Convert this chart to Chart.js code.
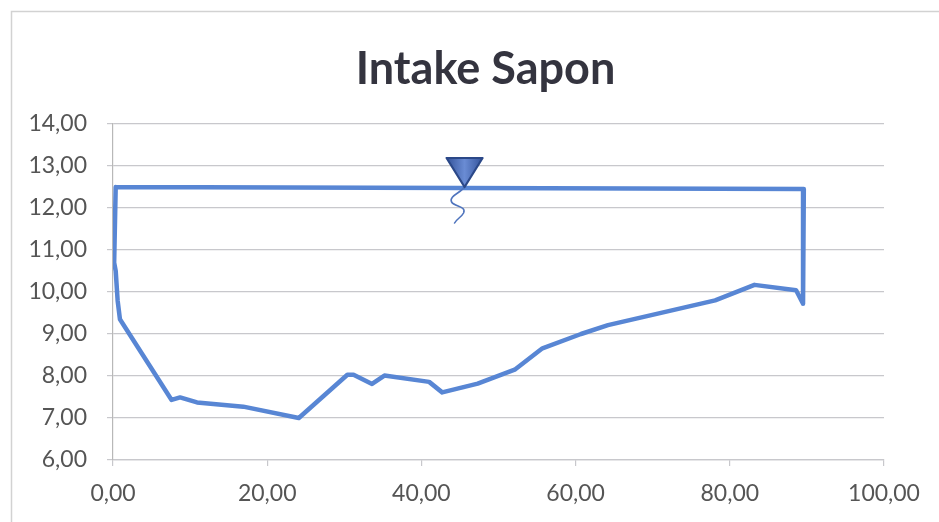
<!DOCTYPE html>
<html>
<head>
<meta charset="utf-8">
<title>Intake Sapon</title>
<script src="https://cdn.jsdelivr.net/npm/chart.js@4.4.1/dist/chart.umd.min.js"></script>
<style>
  html, body { margin: 0; padding: 0; background: #ffffff; }
  #wrap { width: 939px; height: 522px; position: relative; }
</style>
</head>
<body>
<div id="wrap"><canvas id="chart" width="939" height="522"></canvas></div>
<script>
// Cross-section of the intake: station (m) and elevation (m), traced as a closed outline
// (water surface on top, right bank, river bed, left bank).
const stations = [0.35, 89.6, 89.5, 88.6, 83.2, 78.1, 64.2, 60.7, 55.7, 52.1, 47.3, 42.7,
                  41.0, 35.2, 33.6, 31.2, 30.4, 24.1, 16.9, 10.9, 8.7, 7.6, 0.9, 0.6,
                  0.35, 0.15, 0.35];
const elevations = [12.5, 12.45, 9.72, 10.04, 10.17, 9.80, 9.21, 9.00, 8.66, 8.15, 7.82, 7.61,
                    7.86, 8.01, 7.81, 8.03, 8.03, 7.00, 7.27, 7.37, 7.49, 7.43, 9.35, 9.80,
                    10.50, 10.70, 12.5];

// Water level marker
const waterLevel = [12.5];
const markerStation = [45.6];

// Axis ticks
const xTicks = [0, 20, 40, 60, 80, 100];
const yTicks = [6, 7, 8, 9, 10, 11, 12, 13, 14];

const chartTitle = 'Intake Sapon';

const profile = stations.map((s, i) => ({ x: s, y: elevations[i] }));
const fmt = v => Number(v).toFixed(2).replace('.', ',');

const LINE = '#5886d4';
const GRID = '#c8c8cc';
const LABEL = '#555555';

// Light frame around the chart
const framePlugin = {
  id: 'frame',
  beforeDraw(chart) {
    const ctx = chart.ctx;
    ctx.save();
    ctx.strokeStyle = '#d2d2d2';
    ctx.lineWidth = 1.5;
    ctx.beginPath();
    ctx.moveTo(11.5, chart.height);
    ctx.lineTo(11.5, 11.5);
    ctx.lineTo(chart.width, 11.5);
    ctx.stroke();
    ctx.restore();
  }
};

// Title, centred over the plot area
const titlePlugin = {
  id: 'plotTitle',
  afterDraw(chart) {
    const ctx = chart.ctx;
    const a = chart.chartArea;
    ctx.save();
    ctx.font = 'bold 45px Lato';
    ctx.fillStyle = '#34343f';
    ctx.textAlign = 'center';
    ctx.textBaseline = 'alphabetic';
    ctx.fillText(chartTitle, (a.left + a.right) / 2 - 13, 84);
    ctx.restore();
  }
};

// Inverted triangle with a wavy tail, marking the water surface
const waterMarkerPlugin = {
  id: 'waterMarker',
  afterDatasetsDraw(chart) {
    const ctx = chart.ctx;
    const xs = chart.scales.x, ys = chart.scales.y;
    const px = xs.getPixelForValue(markerStation[0]);
    const py = ys.getPixelForValue(waterLevel[0]);
    ctx.save();
    // tail
    ctx.strokeStyle = '#4f74bd';
    ctx.lineWidth = 1.6;
    ctx.lineCap = 'round';
    ctx.beginPath();
    ctx.moveTo(px, py);
    ctx.bezierCurveTo(px - 4, py + 6, px - 16, py + 9, px - 13, py + 15);
    ctx.bezierCurveTo(px - 10, py + 20, px + 2, py + 19, px - 1, py + 26);
    ctx.bezierCurveTo(px - 3, py + 30, px - 8, py + 32, px - 10, py + 36);
    ctx.stroke();
    // triangle, apex on the surface
    const w = 36, h = 29;
    const g = ctx.createLinearGradient(px - w / 2, 0, px + w / 2, 0);
    g.addColorStop(0, '#34539a');
    g.addColorStop(0.5, '#6a8cd4');
    g.addColorStop(1, '#34539a');
    ctx.beginPath();
    ctx.moveTo(px - w / 2, py - h);
    ctx.lineTo(px + w / 2, py - h);
    ctx.lineTo(px, py);
    ctx.closePath();
    ctx.fillStyle = g;
    ctx.fill();
    ctx.strokeStyle = '#2b4888';
    ctx.lineWidth = 2.2;
    ctx.lineJoin = 'round';
    ctx.stroke();
    ctx.restore();
  }
};

new Chart(document.getElementById('chart'), {
  type: 'scatter',
  data: {
    datasets: [{
      label: 'Profil',
      data: profile,
      showLine: true,
      borderColor: LINE,
      borderWidth: 4.5,
      pointRadius: 0,
      pointHoverRadius: 0,
      tension: 0,
      fill: false,
      borderJoinStyle: 'round',
      borderCapStyle: 'round'
    }]
  },
  options: {
    responsive: false,
    devicePixelRatio: 1,
    animation: false,
    layout: { padding: { left: 0, right: 55, top: 124, bottom: 0 } },
    plugins: {
      legend: { display: false },
      tooltip: { enabled: false },
      title: { display: false }
    },
    scales: {
      x: {
        type: 'linear',
        min: xTicks[0],
        max: xTicks[xTicks.length - 1],
        afterBuildTicks: s => { s.ticks = xTicks.map(v => ({ value: v })); },
        afterFit: s => { s.height = 62; },
        ticks: {
          color: LABEL,
          font: { family: 'Lato', size: 23 },
          padding: 14,
          maxRotation: 0,
          callback: v => fmt(v)
        },
        grid: { drawOnChartArea: false, drawTicks: true, tickLength: 6, color: GRID, lineWidth: 1.2 },
        border: { display: true, color: GRID, width: 1.2 }
      },
      y: {
        type: 'linear',
        min: yTicks[0],
        max: yTicks[yTicks.length - 1],
        afterBuildTicks: s => { s.ticks = yTicks.map(v => ({ value: v })); },
        afterFit: s => { s.width = 113; },
        ticks: {
          color: LABEL,
          font: { family: 'Lato', size: 23 },
          padding: 20,
          callback: v => fmt(v)
        },
        grid: { drawOnChartArea: true, drawTicks: true, tickLength: 6, color: GRID, lineWidth: 1.2 },
        border: { display: true, color: '#b8b8b8', width: 1.2 }
      }
    }
  },
  plugins: [framePlugin, titlePlugin, waterMarkerPlugin]
});
</script>
</body>
</html>
